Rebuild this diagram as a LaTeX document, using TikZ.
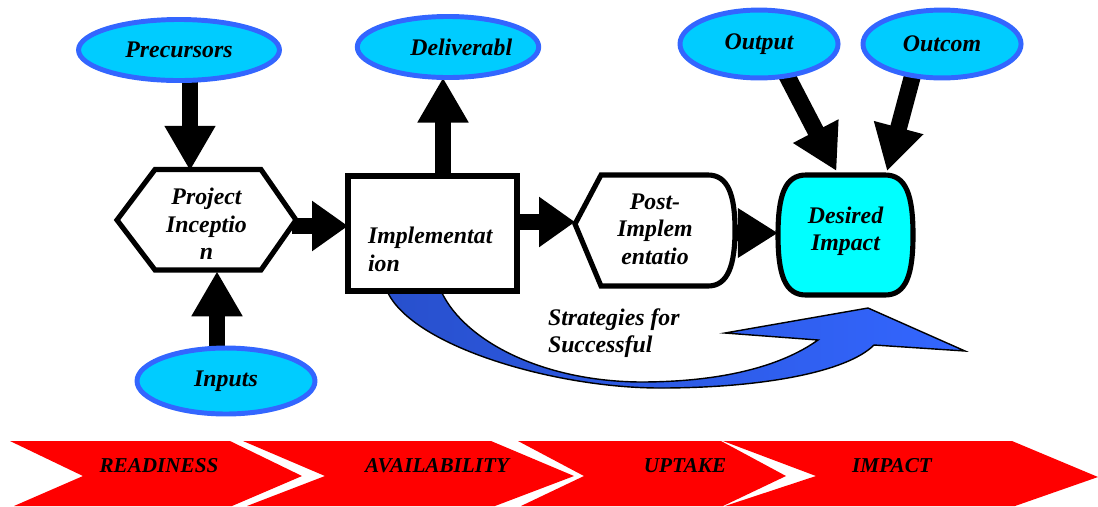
\documentclass[tikz,border=0pt]{standalone}
\usepackage{fontspec}
\setmainfont{Liberation Serif}
\usetikzlibrary{arrows.meta,backgrounds,calc,shapes.geometric}
\definecolor{ellfill}{RGB}{0,204,255}
\definecolor{elldraw}{RGB}{51,102,255}
\definecolor{impactfill}{RGB}{0,255,255}
\definecolor{swdark}{RGB}{40,80,205}
\definecolor{swlight}{RGB}{51,102,255}
\definecolor{bandred}{RGB}{255,0,0}
\tikzset{
  lbl/.style={font=\fontsize{13.5}{15.5}\selectfont\bfseries\itshape, align=center, inner sep=0pt, outer sep=0pt},
  oval/.style={ellipse, draw=elldraw, fill=ellfill, line width=2.8pt, inner sep=0pt, outer sep=0pt,
               font=\fontsize{13.5}{15.5}\selectfont\bfseries\itshape},
  shapeline/.style={draw=black, line width=2.9pt},
  fatv/.style={line width=9.6pt, -{Triangle[length=25.5pt,width=27.2pt]}},
  fath/.style={line width=9.6pt, -{Triangle[length=20.4pt,width=27.2pt]}},
  fatp/.style={line width=9.6pt, -{Triangle[length=22.7pt,width=26.6pt]}},
  band/.style={fill=bandred, draw=none},
  bandtext/.style={font=\fontsize{12}{14}\selectfont\bfseries\itshape, inner sep=0pt},
  swoosh/.style={draw=black, line width=0.8pt, left color=swdark, right color=swlight}
}
\begin{document}
\begin{tikzpicture}[x=0.5669pt, y=-0.5669pt]
\useasboundingbox (0,0) rectangle (1098,506);

% ellipses
\node[oval, minimum width=113.9pt, minimum height=34.6pt] (prec) at (179,50) {Precursors};
\node[oval, minimum width=99.2pt, minimum height=34.6pt] (deliv) at (448,47) {\hspace*{15pt}Deliverabl};
\node[oval, minimum width=89.6pt, minimum height=38.5pt] (outp) at (759,44) {Output};
\node[oval, minimum width=89.6pt, minimum height=38.5pt] (outc) at (942,44) {Outcom};
\node[oval, minimum width=100.9pt, minimum height=37.4pt] (inp) at (226,381) {Inputs};

% hexagon: Project Inception
\draw[shapeline, fill=white] (117,220) -- (155,169.5) -- (261,169.5) -- (296,220) -- (261,270) -- (155,270) -- cycle;
\node[lbl, minimum width=101.5pt, minimum height=57pt] (hex) at (206.5,224) {Project\\Inceptio\\n};

% Implementation rectangle
\node[draw=black, fill=white, line width=3.1pt, inner sep=0pt, outer sep=0pt,
      minimum width=95.8pt, minimum height=65.2pt] (impl) at (432.5,233.5) {};
\node[lbl, align=left, anchor=west] (implT) at (368,249.5) {Implementat\\ion};

% Post-Implementation
\draw[shapeline, fill=white] (575,224) -- (601,175) -- (708,175)
  .. controls (728,175) and (735,195) .. (735,230)
  .. controls (735,265) and (728,286) .. (708,286) -- (601,286) -- cycle;
\node[lbl, minimum width=90.7pt, minimum height=62.9pt] (post) at (655,229) {Post-\\Implem\\entatio};

% Desired Impact
\draw[shapeline, fill=impactfill] (806,175) -- (885,175)
  .. controls (906,175) and (913,195) .. (913,235)
  .. controls (913,275) and (906,295) .. (885,295) -- (806,295)
  .. controls (785,295) and (778,275) .. (778,235)
  .. controls (778,195) and (785,175) .. (806,175) -- cycle;
\node[lbl, minimum width=74.3pt, minimum height=68pt] (des) at (845.5,231) {Desired\\Impact};

% strategies label
\node[lbl, align=left, anchor=west] (strat) at (548,333) {Strategies for\\Successful};

% connectors behind the shapes
\begin{scope}[on background layer]
  \draw[fatv] ($(prec.south)+(11,-4)$) -- ($(hex.north)+(-16.5,-3)$);
  \draw[fatv] ($(inp.north)+(-9,4)$) -- ($(hex.south)+(10.5,-3)$);
  \draw[fatv] ($(impl.north)+(10.5,4)$) -- ($(deliv.south)+(-5,0)$);
  \draw[fath] ($(hex.east)+(-4,2)$) -- ($(impl.west)+(0,-7.5)$);
  \draw[fath] ($(impl.east)+(-4,-11.5)$) -- ($(post.west)+(0,-7)$);
  \draw[fatp] ($(post.east)+(-4,4)$) -- ($(des.west)+(-2,2)$);
  \draw[fatv] ($(outp.south)+(27,-4)$) -- ($(des.north)+(-9,0)$);
  \draw[fatv] ($(outc.south)+(-29,-4)$) -- ($(des.north)+(41.5,0)$);
  % blue swoosh
  \draw[swoosh] (388,293) .. controls (415,347) and (555,388) .. (660,388)
     .. controls (762,388) and (847,372) .. (874,345) -- (965,351) -- (868,308)
     -- (725,333) -- (818,340) .. controls (780,367) and (720,382) .. (640,382)
     .. controls (540,381) and (465,340) .. (442,293) -- cycle;
\end{scope}

% bottom chevron band
\fill[band] (10,441) -- (230,441) -- (302,476) -- (232,506) -- (14,506) -- (83,476) -- cycle;
\fill[band] (243,441) -- (491,441) -- (574,476) -- (495,506) -- (247,506) -- (325,476) -- cycle;
\fill[band] (518,441) -- (721,441) -- (786,476) -- (723,506) -- (521,506) -- (584,476) -- cycle;
\fill[band] (723,441) -- (1012,441) -- (1098,477) -- (1015,506) -- (725,506) -- (816,476) -- cycle;
\node[bandtext] (c1) at (159,466) {READINESS};
\node[bandtext] (c2) at (437,466) {AVAILABILITY};
\node[bandtext] (c3) at (685,466) {UPTAKE};
\node[bandtext] (c4) at (892,466) {IMPACT};
\end{tikzpicture}
\end{document}
